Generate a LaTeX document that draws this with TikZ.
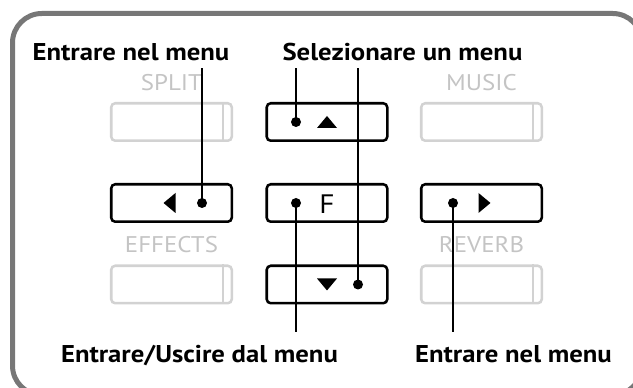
\documentclass[tikz,border=0pt]{standalone}
\usepackage{fontspec}
\setmainfont{PT Sans}[FakeStretch=1.1]
\usetikzlibrary{calc}
\definecolor{framegray}{HTML}{777777}
\definecolor{keygray}{HTML}{D2D2D2}
\definecolor{txtgray}{HTML}{C4C4C4}
\begin{document}
\begin{tikzpicture}[x=0.75pt,y=-0.75pt,
  blackkey/.style={draw=black, line width=1.9pt, rounded corners=3pt,
    minimum width=90.4pt, minimum height=28.1pt, inner sep=0pt},
  graykey/.style={draw=keygray, line width=1.9pt, rounded corners=3pt,
    minimum width=90.4pt, minimum height=28.1pt, inner sep=0pt},
  dot/.style={circle, fill=black, inner sep=0pt, minimum size=7.5pt},
  lab/.style={font=\bfseries\fontsize{18.2}{22}\selectfont, inner sep=0pt, anchor=base},
  glab/.style={font=\fontsize{17}{20}\selectfont, text=txtgray, inner sep=0pt, anchor=base},
  conn/.style={line width=1.3pt, draw=black},
  tri/.style={fill=black}]
\path[use as bounding box, clip] (0,0) rectangle (633,388);
\draw[framegray, line width=3.75pt, rounded corners=22pt] (12.5,13.5) rectangle (642,395);

% gray keys
\node[graykey] (split) at (171.5,122) {};
\node[graykey] (music) at (481.5,122) {};
\node[graykey] (effects) at (171.5,284.5) {};
\node[graykey] (reverb) at (481.5,284.5) {};
\foreach \k in {split,music,effects,reverb}
  \draw[keygray, line width=1.9pt] ($(\k.north east)+(-10,0)$) -- ($(\k.south east)+(-10,0)$);
\node[glab] (tsplit) at (171.5,91) {SPLIT};
\node[glab] (tmusic) at (481.5,91) {MUSIC};
\node[glab] (teffects) at (171.5,253) {EFFECTS};
\node[glab] (treverb) at (481.5,253) {REVERB};

% black keys
\node[blackkey] (up) at (327,122) {};
\node[blackkey] (left) at (171.5,203) {};
\node[blackkey] (fkey) at (327,203) {};
\node[blackkey] (right) at (481.5,203) {};
\node[blackkey] (down) at (327,284.5) {};

\fill[tri, shift={(up.center)}] (-10,6) -- (10,6) -- (0,-6) -- cycle;
\fill[tri, shift={(down.center)}] (-10,-6) -- (10,-6) -- (0,6) -- cycle;
\fill[tri, shift={(left.center)}] (4,-10) -- (4,10) -- (-8,0) -- cycle;
\fill[tri, shift={(right.center)}] (-3,-10) -- (-3,10) -- (9,0) -- cycle;
\node[font=\fontsize{20}{24}\selectfont, inner sep=0pt, anchor=base] (ftxt) at (327,213.5) {F};

% dots
\node[dot] (dup) at (296,122) {};
\node[dot] (dleft) at (202,203) {};
\node[dot] (df) at (296,203) {};
\node[dot] (dright) at (453,203) {};
\node[dot] (ddown) at (358,284.5) {};

% labels
\node[lab] (l1) at (131,61) {Entrare nel menu};
\node[lab] (l2) at (402.5,61) {Selezionare un menu};
\node[lab] (l3) at (199.5,362.5) {Entrare/Uscire dal menu};
\node[lab] (l4) at (513.5,362.5) {Entrare nel menu};

\coordinate (e1) at (202,68);
\coordinate (e2) at (296,68);
\coordinate (e3) at (358,68);
\coordinate (e4) at (296,332);
\coordinate (e5) at (453,332);

\draw[conn] (dleft.center) -- (e1);
\draw[conn] (dup.center) -- (e2);
\draw[conn] (ddown.center) -- (e3);
\draw[conn] (df.center) -- (e4);
\draw[conn] (dright.center) -- (e5);
\end{tikzpicture}
\end{document}
